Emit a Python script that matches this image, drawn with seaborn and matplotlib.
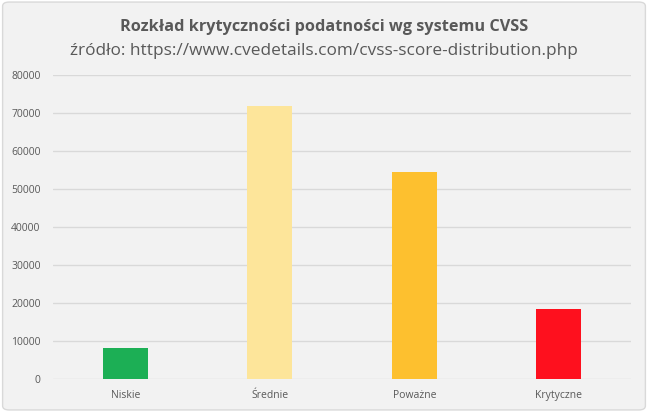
import matplotlib

matplotlib.use("Agg")
import matplotlib.pyplot as plt
import pandas as pd
import seaborn as sns
from matplotlib.patches import FancyBboxPatch

categories = ["Niskie", "Średnie", "Poważne", "Krytyczne"]
counts = [8200, 71800, 54500, 18400]
bar_colors = ["#1CAF55", "#FDE59A", "#FDC02F", "#FE101E"]
y_ticks = [0, 10000, 20000, 30000, 40000, 50000, 60000, 70000, 80000]

TITLE = "Rozkład krytyczności podatności wg systemu CVSS"
SUBTITLE = "źródło: https://www.cvedetails.com/cvss-score-distribution.php"

BG = "#F2F2F2"
TEXT = "#595959"

sns.set_theme(style="white")
plt.rcParams["font.family"] = ["Open Sans", "DejaVu Sans"]

df = pd.DataFrame({"kategoria": categories, "liczba": counts})

fig = plt.figure(figsize=(6.48, 4.12), dpi=100, facecolor="white")
fig.patches.append(FancyBboxPatch(
    (0.004, 0.005), 0.992, 0.99, boxstyle="round,pad=0,rounding_size=0.01",
    transform=fig.transFigure, facecolor=BG, edgecolor="#D9D9D9", lw=1, zorder=-1,
))
ax = fig.add_axes([0.0818, 0.080, 0.892, 0.738])
ax.set_facecolor(BG)

sns.barplot(df, x="kategoria", y="liczba", hue="kategoria", palette=bar_colors,
            width=0.3125, legend=False, saturation=1, linewidth=0, ax=ax)

ax.set_ylim(0, 80000)
ax.set_xlim(-0.5, len(categories) - 0.5)
ax.set_yticks(y_ticks)
ax.yaxis.grid(True, color="#D9D9D9", lw=1)
ax.set_axisbelow(True)
for s in ax.spines.values():
    s.set_visible(False)
ax.tick_params(axis="both", length=0, colors=TEXT, labelsize=7.5)
ax.tick_params(axis="y", pad=9)
ax.tick_params(axis="x", pad=8)
ax.set_xlabel("")
ax.set_ylabel("")

fig.text(0.5, 0.925, TITLE, ha="center", va="baseline", fontsize=11.7,
         fontweight="bold", color=TEXT)
fig.text(0.5, 0.867, SUBTITLE, ha="center", va="baseline", fontsize=12.4, color=TEXT)

fig.savefig("out.png", dpi=100, facecolor="white")
